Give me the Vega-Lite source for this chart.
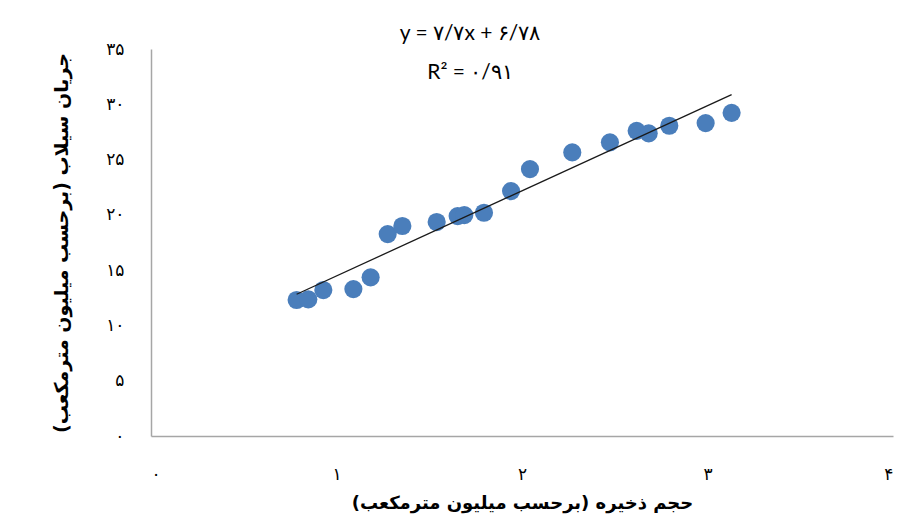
{
  "$schema": "https://vega.github.io/schema/vega-lite/v6.json",
  "autosize": "none",
  "width": 742,
  "height": 387,
  "padding": {"left": 151, "top": 49, "right": 13, "bottom": 89},
  "background": "white",
  "config": {"view": {"stroke": null}},
  "datasets": {
    "pts": [
      {"storage": 0.785, "flow": 12.3},
      {"storage": 0.848, "flow": 12.36},
      {"storage": 0.929, "flow": 13.2},
      {"storage": 1.091, "flow": 13.29},
      {"storage": 1.184, "flow": 14.35},
      {"storage": 1.276, "flow": 18.26},
      {"storage": 1.355, "flow": 18.99},
      {"storage": 1.54, "flow": 19.35},
      {"storage": 1.653, "flow": 19.89},
      {"storage": 1.689, "flow": 19.98},
      {"storage": 1.795, "flow": 20.19},
      {"storage": 1.941, "flow": 22.15},
      {"storage": 2.043, "flow": 24.14},
      {"storage": 2.271, "flow": 25.65},
      {"storage": 2.474, "flow": 26.56},
      {"storage": 2.618, "flow": 27.6},
      {"storage": 2.683, "flow": 27.37},
      {"storage": 2.794, "flow": 28.06},
      {"storage": 2.99, "flow": 28.3},
      {"storage": 3.13, "flow": 29.23}
    ],
    "trend": [
      {"storage": 0.785, "flow": 12.82},
      {"storage": 3.13, "flow": 30.88}
    ],
    "notes": [
      {"storage": 1.72, "flow": 36.4, "label": "y = ۷/۷x + ۶/۷۸"},
      {"storage": 1.72, "flow": 32.8, "label": "R² = ۰/۹۱"}
    ]
  },
  "layer": [
    {
      "data": {"name": "pts"},
      "mark": {"type": "point", "filled": true, "opacity": 1, "size": 330, "color": "#4a7ebb", "shape": "circle"},
      "encoding": {
        "x": {
          "field": "storage", "type": "quantitative",
          "scale": {"domain": [0, 4], "nice": false},
          "axis": {
            "values": [0, 1, 2, 3, 4],
            "format": "d",
            "grid": false, "ticks": false,
            "domainColor": "#a6a6a6", "domainWidth": 1.5,
            "labelFont": "DejaVu Sans", "labelFontSize": 17, "labelColor": "#000000",
            "labelPadding": 30,
            "labelExpr": "replace(replace(replace(replace(replace(replace(replace(replace(replace(replace(datum.label,'0','۰'),'1','۱'),'2','۲'),'3','۳'),'4','۴'),'5','۵'),'6','۶'),'7','۷'),'8','۸'),'9','۹')",
            "title": "حجم ذخیره (برحسب میلیون مترمکعب)",
            "titleFont": "DejaVu Sans", "titleFontSize": 18, "titleFontWeight": "bold", "titleColor": "#000000",
            "titlePadding": 12
          }
        },
        "y": {
          "field": "flow", "type": "quantitative",
          "scale": {"domain": [0, 35], "nice": false},
          "axis": {
            "values": [0, 5, 10, 15, 20, 25, 30, 35],
            "format": "d",
            "grid": false, "ticks": false,
            "domainColor": "#a6a6a6", "domainWidth": 1.5,
            "labelFont": "DejaVu Sans", "labelFontSize": 17, "labelColor": "#000000",
            "labelPadding": 27,
            "labelExpr": "replace(replace(replace(replace(replace(replace(replace(replace(replace(replace(datum.label,'0','۰'),'1','۱'),'2','۲'),'3','۳'),'4','۴'),'5','۵'),'6','۶'),'7','۷'),'8','۸'),'9','۹')",
            "title": "جریان سیلاب (برحسب میلیون مترمکعب)",
            "titleFont": "DejaVu Sans", "titleFontSize": 19, "titleFontWeight": "bold", "titleColor": "#000000",
            "titlePadding": 34
          }
        }
      }
    },
    {
      "data": {"name": "trend"},
      "mark": {"type": "line", "color": "#1a1a1a", "strokeWidth": 1.3},
      "encoding": {
        "x": {"field": "storage", "type": "quantitative"},
        "y": {"field": "flow", "type": "quantitative"}
      }
    },
    {
      "data": {"name": "notes"},
      "mark": {"type": "text", "font": "Lato", "fontSize": 21, "color": "#000000", "align": "center", "baseline": "middle", "clip": false},
      "encoding": {
        "x": {"field": "storage", "type": "quantitative"},
        "y": {"field": "flow", "type": "quantitative"},
        "text": {"field": "label"}
      }
    }
  ]
}
